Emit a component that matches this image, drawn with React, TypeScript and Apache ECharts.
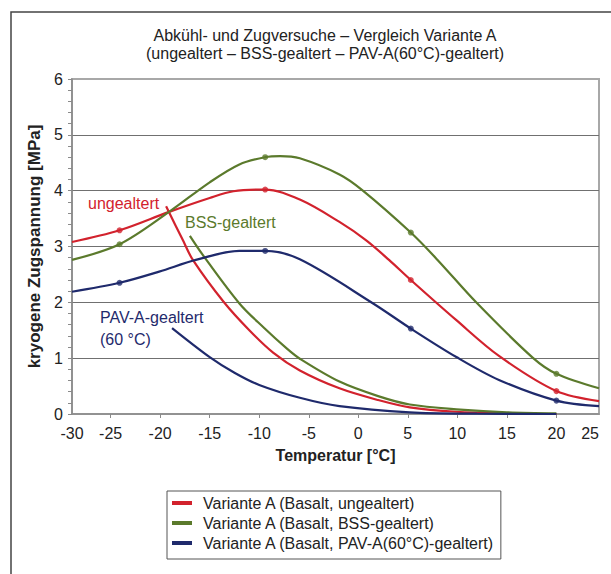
import React, { useEffect, useRef } from "react";
import * as echarts from "echarts";

const FONT = "'Liberation Sans', Arial, sans-serif";

const titleLines = [
  "Abkühl- und Zugversuche – Vergleich Variante A",
  "(ungealtert – BSS-gealtert – PAV-A(60°C)-gealtert)",
];
const seriesNames = [
  "Variante A (Basalt, ungealtert)",
  "Variante A (Basalt, BSS-gealtert)",
  "Variante A (Basalt, PAV-A(60°C)-gealtert)",
];
const seriesColors = ["#d2222d", "#5b7a2c", "#1f2a6c"];
const annotationTexts = ["ungealtert", "BSS-gealtert", "PAV-A-gealtert\n(60 °C)"];

const yAxisName = "kryogene Zugspannung [MPa]";
const xAxisName = "Temperatur [°C]";

// x-axis tick positions (ends of the drawn axis) and their printed labels
const xMin = -28.9;
const xMax = 24.3;
const xLabelValues = [-28.9, -25, -20, -15, -10, -5, 0, 5, 10, 15, 20, 24.3];
const xLabelTexts = ["-30", "-25", "-20", "-15", "-10", "-5", "0", "5", "10", "15", "20", "25"];
const xTickValues = [-25, -20, -15, -10, -5, 0, 5, 10, 15, 20];

// strength curves (with measured points)
const redStrength = [
  [-28.9, 3.08], [-24.1, 3.29], [-19.1, 3.62], [-15.0, 3.87], [-12.6, 3.99],
  [-9.4, 4.02], [-5.9, 3.84], [-1.9, 3.44], [0.8, 3.11], [3.1, 2.76],
  [5.3, 2.4], [9.9, 1.68], [14.2, 1.04], [20.0, 0.41], [24.3, 0.23],
];
const greenStrength = [
  [-28.9, 2.76], [-24.1, 3.04], [-19.1, 3.62], [-15.0, 4.15], [-12.0, 4.47],
  [-9.4, 4.6], [-7.9, 4.62], [-5.9, 4.58], [-1.9, 4.29], [0.4, 4.01],
  [5.3, 3.25], [8.0, 2.76], [11.9, 2.0], [17.6, 1.01], [20.0, 0.72], [24.3, 0.46],
];
const navyStrength = [
  [-28.9, 2.19], [-24.1, 2.35], [-20.1, 2.55], [-16.4, 2.76], [-12.0, 2.92],
  [-9.4, 2.92], [-5.9, 2.77], [1.5, 1.98], [5.3, 1.53],
  [9.9, 1.02], [14.2, 0.61], [20.0, 0.24], [24.3, 0.14],
];

// cryogenic stress curves (no markers)
const redStress = [
  [-19.4, 3.72], [-17.7, 3.11], [-16.7, 2.76], [-13.6, 2.01], [-11.0, 1.5],
  [-8.6, 1.1], [-5.9, 0.78], [-1.9, 0.46], [2.0, 0.25], [5.2, 0.12],
  [9.9, 0.04], [14.9, 0.01], [20.0, 0.0],
];
const greenStress = [
  [-17.0, 3.19], [-15.7, 2.85], [-12.0, 1.98], [-9.5, 1.54], [-7.2, 1.17],
  [-5.9, 0.99], [-1.9, 0.58], [2.0, 0.32], [5.2, 0.17], [10.3, 0.08],
  [15.0, 0.03], [20.0, 0.01],
];
const navyStress = [
  [-18.8, 1.54], [-15.0, 1.02], [-12.5, 0.74], [-10.0, 0.52], [-5.9, 0.29],
  [-1.9, 0.14], [5.2, 0.03], [12.0, 0.005], [20.0, 0.0],
];

// measured points (markers)
const markerTemps = [-24.1, -9.4, 5.3, 20.0];
const redMarkers = [3.29, 4.02, 2.4, 0.41];
const greenMarkers = [3.04, 4.6, 3.25, 0.72];
const navyMarkers = [2.35, 2.92, 1.53, 0.24];

export default function App() {
  const ref = useRef<HTMLDivElement>(null);

  useEffect(() => {
    if (!ref.current) return;
    const chart = echarts.init(ref.current, null, { renderer: "svg" });

    const strengths = [redStrength, greenStrength, navyStrength];
    const stresses = [redStress, greenStress, navyStress];
    const markers = [redMarkers, greenMarkers, navyMarkers];

    const series: any[] = [];
    seriesNames.forEach((name, i) => {
      const color = seriesColors[i];
      series.push({
        type: "line",
        name,
        data: strengths[i],
        smooth: 0.33,
        symbol: "none",
        silent: true,
        lineStyle: { color, width: 2.2 },
        itemStyle: { color },
        z: 3,
      });
      series.push({
        type: "line",
        name,
        data: stresses[i],
        smooth: 0.33,
        symbol: "none",
        silent: true,
        lineStyle: { color, width: 2.2 },
        itemStyle: { color },
        z: 3,
      });
      series.push({
        type: "scatter",
        name,
        data: markerTemps.map((t, k) => [t, markers[i][k]]),
        symbol: "circle",
        symbolSize: 6,
        silent: true,
        itemStyle: { color },
        z: 4,
      });
    });

    const axisGray = "#8a8a8a";

    chart.setOption({
      animation: false,
      backgroundColor: "#ffffff",
      textStyle: { fontFamily: FONT },
      grid: {
        left: 72,
        right: 12,
        top: 79,
        bottom: 160,
        show: true,
        borderColor: "#a8a8a8",
        borderWidth: 2,
        backgroundColor: "transparent",
      },
      xAxis: {
        type: "value",
        min: xMin,
        max: xMax,
        axisLine: { show: true, onZero: false, lineStyle: { color: axisGray, width: 1.5 } },
        axisTick: {
          show: true,
          length: 4,
          customValues: xTickValues,
          lineStyle: { color: axisGray },
        },
        axisLabel: {
          customValues: xLabelValues,
          formatter: (v: number) => {
            let best = 0;
            xLabelValues.forEach((x, k) => {
              if (Math.abs(x - v) < Math.abs(xLabelValues[best] - v)) best = k;
            });
            return xLabelTexts[best];
          },
          fontSize: 16,
          color: "#222",
          fontFamily: FONT,
          margin: 11,
          alignMaxLabel: "right",
        },
        splitLine: { show: false },
        name: xAxisName,
        nameLocation: "middle",
        nameGap: 33,
        nameTextStyle: { fontSize: 16, fontWeight: "bold", color: "#222", fontFamily: FONT },
      },
      yAxis: {
        type: "value",
        min: 0,
        max: 6,
        interval: 1,
        axisLine: { show: true, onZero: false, lineStyle: { color: axisGray, width: 1.5 } },
        axisTick: { show: true, length: 4, lineStyle: { color: axisGray } },
        minorTick: { show: true, splitNumber: 5, length: 4, lineStyle: { color: axisGray } },
        axisLabel: { fontSize: 16, color: "#222", margin: 9, fontFamily: FONT },
        splitLine: { show: true, showMaxLine: false, showMinLine: false, lineStyle: { color: "#707070", width: 1 } },
        name: yAxisName,
        nameLocation: "middle",
        nameGap: 27,
        nameTextStyle: { fontSize: 17, fontWeight: "bold", color: "#222", fontFamily: FONT },
      },
      legend: {
        orient: "vertical",
        left: 167,
        top: 491,
        data: seriesNames.map((n) => ({ name: n, icon: "rect" })),
        itemWidth: 20,
        itemHeight: 4,
        itemGap: 4,
        padding: [4, 6, 8, 5],
        borderColor: "#555",
        borderWidth: 1,
        selectedMode: false,
        textStyle: { fontSize: 16, color: "#222", lineHeight: 16, fontFamily: FONT, padding: [0, 0, 0, 6] },
      },
      graphic: [
        {
          type: "rect",
          shape: { x: 11, y: 12, width: 1000, height: 1000 },
          style: { fill: "none", stroke: "#444", lineWidth: 1.5 },
          silent: true,
          z: 0,
        },
        {
          type: "text",
          x: 325,
          y: 44,
          silent: true,
          style: {
            text: titleLines.join("\n"),
            fill: "#222",
            font: `16px ${FONT}`,
            align: "center",
            verticalAlign: "middle",
            lineHeight: 18,
          },
        },
        {
          type: "text",
          x: 88,
          y: 203,
          silent: true,
          style: { text: annotationTexts[0], fill: seriesColors[0], font: `16px ${FONT}`, align: "left", verticalAlign: "middle" },
        },
        {
          type: "text",
          x: 185,
          y: 222,
          silent: true,
          style: { text: annotationTexts[1], fill: seriesColors[1], font: `16px ${FONT}`, align: "left", verticalAlign: "middle" },
        },
        {
          type: "text",
          x: 100,
          y: 328,
          silent: true,
          style: {
            text: annotationTexts[2],
            fill: seriesColors[2],
            font: `16px ${FONT}`,
            align: "left",
            verticalAlign: "middle",
            lineHeight: 22,
          },
        },
      ],
      series,
    });

    return () => chart.dispose();
  }, []);

  return (
    <div
      ref={ref}
      style={{ position: "absolute", left: 0, top: 0, width: 611, height: 574, background: "#fff" }}
    />
  );
}
